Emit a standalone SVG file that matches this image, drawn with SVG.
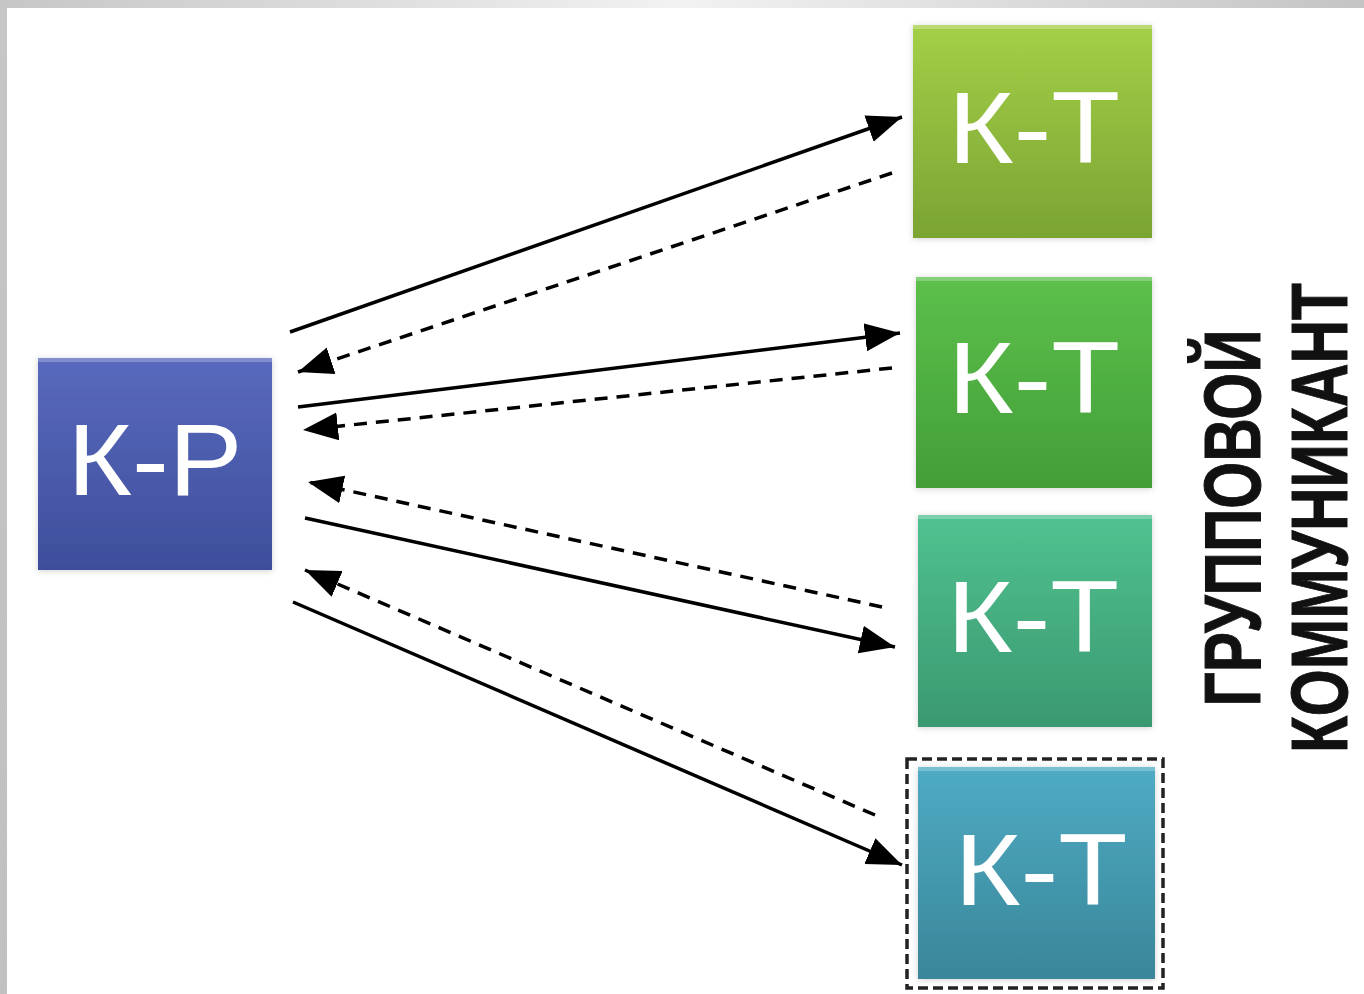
<svg xmlns="http://www.w3.org/2000/svg" width="1364" height="994" viewBox="0 0 1364 994">
<defs>
<linearGradient id="topband" x1="0" y1="0" x2="1" y2="0">
<stop offset="0" stop-color="#c6c6c6"/>
<stop offset="0.5" stop-color="#f2f2f2"/>
<stop offset="1" stop-color="#c4c4c4"/>
</linearGradient>
<linearGradient id="leftband" x1="0" y1="0" x2="0" y2="1">
<stop offset="0" stop-color="#c6c6c6"/>
<stop offset="1" stop-color="#c0c0c0"/>
</linearGradient>
<linearGradient id="gKP" x1="0" y1="0" x2="0" y2="1">
<stop offset="0" stop-color="#5969bd"/>
<stop offset="1" stop-color="#3e4e9b"/>
</linearGradient>
<linearGradient id="g1" x1="0" y1="0" x2="0" y2="1">
<stop offset="0" stop-color="#a4cf47"/>
<stop offset="1" stop-color="#7aa433"/>
</linearGradient>
<linearGradient id="g2" x1="0" y1="0" x2="0" y2="1">
<stop offset="0" stop-color="#5cc04b"/>
<stop offset="1" stop-color="#439e38"/>
</linearGradient>
<linearGradient id="g3" x1="0" y1="0" x2="0" y2="1">
<stop offset="0" stop-color="#50c290"/>
<stop offset="1" stop-color="#3a9870"/>
</linearGradient>
<linearGradient id="g4" x1="0" y1="0" x2="0" y2="1">
<stop offset="0" stop-color="#4eabc4"/>
<stop offset="1" stop-color="#3a8698"/>
</linearGradient>
<filter id="soft" x="-10%" y="-10%" width="120%" height="120%">
<feGaussianBlur in="SourceAlpha" stdDeviation="3"/>
<feOffset dx="0" dy="1" result="b"/>
<feFlood flood-color="#000" flood-opacity="0.18"/>
<feComposite in2="b" operator="in"/>
<feMerge><feMergeNode/><feMergeNode in="SourceGraphic"/></feMerge>
</filter>
<marker id="ah" markerUnits="userSpaceOnUse" markerWidth="38" markerHeight="30" refX="35" refY="14" orient="auto">
<path d="M0,0 L35,14 L0,28 z" fill="#000"/>
</marker>
<style>
.box{filter:url(#soft);}
.hl{fill:#ffffff;opacity:0.25;}
.lbl{font-family:"Liberation Sans",Arial,sans-serif;font-size:102px;fill:#ffffff;text-anchor:middle;}
.side{font-family:"Liberation Sans",Arial,sans-serif;font-weight:bold;font-size:80px;fill:#111;text-anchor:middle;stroke:#111;stroke-width:1;}
.solid{fill:none;stroke:#000;stroke-width:3.5;marker-end:url(#ah);}
.dash{fill:none;stroke:#000;stroke-width:3.5;stroke-dasharray:13 9;marker-end:url(#ah);}
</style>
</defs>
<rect x="0" y="0" width="1364" height="994" fill="#ffffff"/>
<rect x="0" y="0" width="1364" height="8" fill="url(#topband)"/>
<rect x="0" y="0" width="7" height="994" fill="url(#leftband)"/>

<g id="connectors">
<path class="solid" d="M290,332 L902,117"/>
<path class="dash" d="M892,173 L298,372"/>
<path class="solid" d="M298,407 L900,333"/>
<path class="dash" d="M892,368 L303,430"/>
<path class="dash" d="M882,607 L308,482"/>
<path class="solid" d="M305,518 L895,647"/>
<path class="dash" d="M875,815 L305,570"/>
<path class="solid" d="M293,602 L902,865"/>
</g>

<g id="node-kp">
<rect class="box" x="38" y="358" width="234" height="212" fill="url(#gKP)"/>
<rect class="hl" x="38" y="358" width="234" height="4"/>
<text class="lbl" x="155" y="495" textLength="175" lengthAdjust="spacingAndGlyphs">К-Р</text>
</g>

<g id="node-kt1">
<rect class="box" x="913" y="25" width="239" height="213" fill="url(#g1)"/>
<rect class="hl" x="913" y="25" width="239" height="4"/>
<text class="lbl" x="1034" y="163" textLength="172" lengthAdjust="spacingAndGlyphs">К-Т</text>
</g>

<g id="node-kt2">
<rect class="box" x="916" y="277" width="236" height="211" fill="url(#g2)"/>
<rect class="hl" x="916" y="277" width="236" height="4"/>
<text class="lbl" x="1034" y="413" textLength="172" lengthAdjust="spacingAndGlyphs">К-Т</text>
</g>

<g id="node-kt3">
<rect class="box" x="918" y="515" width="234" height="212" fill="url(#g3)"/>
<rect class="hl" x="918" y="515" width="234" height="4"/>
<text class="lbl" x="1033" y="652" textLength="172" lengthAdjust="spacingAndGlyphs">К-Т</text>
</g>

<g id="node-kt4">
<rect x="907" y="759" width="256" height="229" fill="none" stroke="#222" stroke-width="3.5" stroke-dasharray="10 5"/>
<rect class="box" x="918" y="767" width="237" height="212" fill="url(#g4)"/>
<rect class="hl" x="918" y="767" width="237" height="4"/>
<text class="lbl" x="1041" y="905" textLength="173" lengthAdjust="spacingAndGlyphs">К-Т</text>
</g>

<g id="group-label">
<text class="side" transform="translate(1260,518) rotate(-90)" x="0" y="0" textLength="377" lengthAdjust="spacingAndGlyphs">ГРУППОВОЙ</text>
<text class="side" transform="translate(1347,518) rotate(-90)" x="0" y="0" textLength="470" lengthAdjust="spacingAndGlyphs">КОММУНИКАНТ</text>
</g>
</svg>
